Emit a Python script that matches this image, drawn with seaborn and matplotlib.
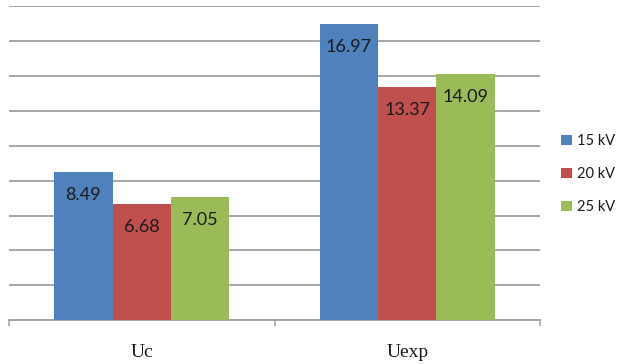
import matplotlib
matplotlib.use("Agg")
import matplotlib.pyplot as plt
import seaborn as sns
import pandas as pd

categories = ["Uc", "Uexp"]
series = ["15 kV", "20 kV", "25 kV"]
values_15kv = [8.49, 16.97]
values_20kv = [6.68, 13.37]
values_25kv = [7.05, 14.09]
colors = ["#4F81BD", "#C0504D", "#9BBB59"]

rows = []
for name, vals in zip(series, [values_15kv, values_20kv, values_25kv]):
    for cat, v in zip(categories, vals):
        rows.append({"category": cat, "series": name, "value": v})
df = pd.DataFrame(rows)

sns.set_theme(style="white")
plt.rcParams["font.family"] = ["Lato", "DejaVu Sans"]

fig = plt.figure(figsize=(6.19, 3.64), dpi=100)
ax = fig.add_axes([9 / 619, 1 - 320.3 / 364, (540 - 9) / 619, (320.3 - 5.9) / 364])

sns.barplot(data=df, x="category", y="value", hue="series", order=categories,
            hue_order=series, palette=colors, width=0.66, gap=0,
            saturation=1, errorbar=None, ax=ax, legend=True, zorder=3,
            edgecolor="none", linewidth=0)

ax.set_xlim(-0.5, 1.5)
ax.set_ylim(0, 18)
ax.set_yticks(range(0, 19, 2))
ax.yaxis.grid(True, color="#a6a6a6", linewidth=1.4, zorder=0)
ax.set_axisbelow(True)
ax.tick_params(axis="y", left=False, labelleft=False)
ax.set_ylabel("")
ax.set_xlabel("")

# category boundaries as tick marks, names drawn below the axis
ax.set_xticks([-0.5, 0.5, 1.5])
ax.set_xticklabels([])
ax.tick_params(axis="x", bottom=True, length=4.5, width=1.2, color="#a6a6a6",
               direction="out")
for i, cat in enumerate(categories):
    ax.annotate(cat, xy=(i, 0), xycoords=("data", "axes fraction"),
                xytext=(0, -26.5), textcoords="offset points",
                ha="center", va="baseline", fontsize=14,
                family=["Liberation Serif"], color="#1a1a1a")

for side in ["top", "right", "left"]:
    ax.spines[side].set_visible(False)
ax.spines["bottom"].set_color("#a6a6a6")
ax.spines["bottom"].set_linewidth(1.4)

# value labels inside each bar, near its top
for container in ax.containers:
    for bar in container:
        h = bar.get_height()
        ax.annotate(f"{h:.2f}", xy=(bar.get_x() + bar.get_width() / 2, h),
                    xytext=(0, -16.5), textcoords="offset points",
                    ha="center", va="center", fontsize=13, color="#1a1a1a",
                    zorder=5)

handles, labels = ax.get_legend_handles_labels()
ax.legend(handles, labels, loc="center left", bbox_to_anchor=(1.04, 0.465),
          frameon=False, handlelength=0.75, handleheight=0.75,
          handletextpad=0.3, labelspacing=1.3, fontsize=10.5,
          borderpad=0, borderaxespad=0, labelcolor="#1a1a1a")

fig.savefig("out.png", dpi=100, facecolor="white")
